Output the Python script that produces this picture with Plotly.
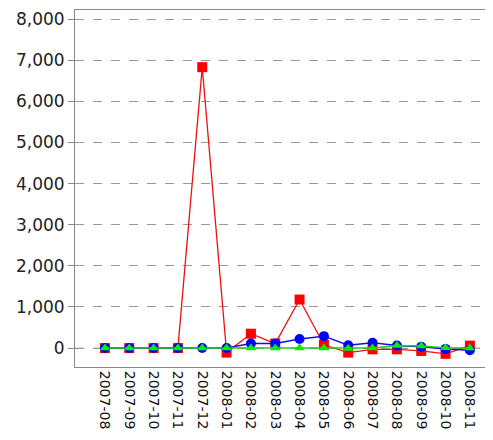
import plotly.graph_objects as go

categories = ["2007-08", "2007-09", "2007-10", "2007-11", "2007-12", "2008-01",
              "2008-02", "2008-03", "2008-04", "2008-05", "2008-06", "2008-07",
              "2008-08", "2008-09", "2008-10", "2008-11"]
red_values = [0, 0, 0, 0, 6830, -110, 350, 110, 1180, 80, -110, -30, -30, -70, -140, 60]
blue_values = [0, 0, 0, 0, 0, 0, 110, 110, 220, 290, 70, 130, 60, 30, -20, -50]
green_values = [0, 0, 0, 0, 0, 0, 0, 0, 0, 0, -10, 0, 60, 50, 10, 0]
y_ticks = [0, 1000, 2000, 3000, 4000, 5000, 6000, 7000, 8000]

fig = go.Figure()
fig.add_trace(go.Scatter(x=categories, y=red_values, mode="lines+markers",
                         line=dict(color="#ee1111", width=1.3),
                         marker=dict(symbol="square", size=10, color="#ff0000")))
fig.add_trace(go.Scatter(x=categories, y=blue_values, mode="lines+markers",
                         line=dict(color="#1010e0", width=1.5),
                         marker=dict(symbol="circle", size=10, color="#0000ff")))
fig.add_trace(go.Scatter(x=categories, y=green_values, mode="lines+markers",
                         line=dict(color="#22cc22", width=1.5),
                         marker=dict(symbol="triangle-up", size=9, color="#00ee00")))

fig.add_hline(y=0, line=dict(color="#e0a080", width=1, dash="dash"), layer="below")

fig.update_layout(
    width=493, height=440,
    margin=dict(l=67, r=8, t=2, b=81),
    paper_bgcolor="white", plot_bgcolor="white",
    showlegend=False,
    font=dict(family="DejaVu Sans", size=14, color="#222"),
)
fig.update_xaxes(type="category", range=[-1.23, 15.95], tickangle=90,
                 showgrid=False, showline=True, linecolor="#888", linewidth=1,
                 mirror=True, ticks="", automargin=False,
                 tickfont=dict(size=14, color="#111"))
fig.update_yaxes(range=[-460, 8220], tickvals=y_ticks, tickformat=",d",
                 showgrid=True, gridcolor="#999", griddash="dash", gridwidth=1,
                 zeroline=False, showline=True, linecolor="#888", linewidth=1,
                 ticks="outside", ticklen=6, tickcolor="#888", automargin=False,
                 tickfont=dict(size=17, color="#222"))

fig.write_html("out.html")
